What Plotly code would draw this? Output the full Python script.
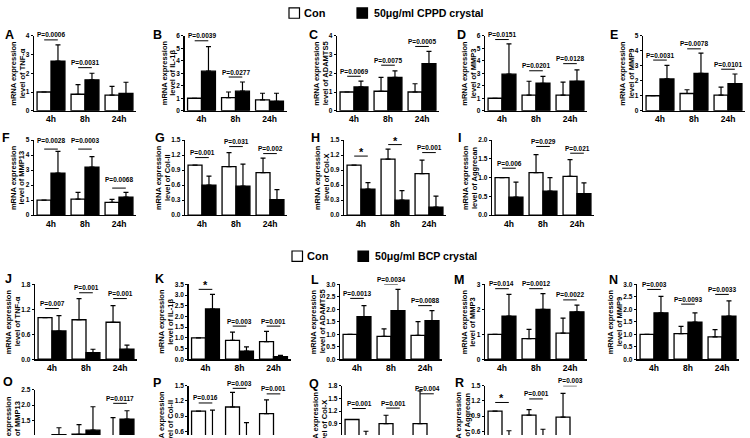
import plotly.graph_objects as go

W, H = 750, 438
CATS = ["4h", "8h", "24h"]

# ---------------- data (means / upper SD) ----------------
A_con = [1.00, 0.88, 0.83]; A_con_err = [0, 0.51, 0.47]
A_cry = [2.65, 1.65, 0.92]; A_cry_err = [0.87, 0.35, 0.60]
A_sig = ["P=0.0006", "P=0.0031", ""]; A_sig_y = [3.78, 2.30, None]

B_con = [1.00, 1.05, 0.87]; B_con_err = [0, 0.45, 0.53]
B_cry = [3.17, 1.57, 0.76]; B_cry_err = [1.96, 0.73, 0.64]
B_sig = ["P=0.0039", "P=0.0277", ""]; B_sig_y = [5.6, 2.7, None]

C_con = [1.00, 1.04, 1.00]; C_con_err = [0, 0.74, 0.44]
C_cry = [1.27, 1.78, 2.51]; C_cry_err = [0.31, 0.35, 0.66]
C_sig = ["P=0.0069", "P=0.0075", "P=0.0005"]; C_sig_y = [1.84, 2.43, 3.43]

D_con = [1.00, 1.25, 1.25]; D_con_err = [0, 1.11, 1.04]
D_cry = [2.93, 2.20, 2.36]; D_cry_err = [2.42, 0.55, 0.91]
D_sig = ["P=0.0151", "P=0.0201", "P=0.0128"]; D_sig_y = [5.7, 3.2, 3.77]

E_con = [1.00, 1.15, 1.04]; E_con_err = [0, 0.25, 0.54]
E_cry = [2.12, 2.49, 1.80]; E_cry_err = [0.91, 1.36, 0.65]
E_sig = ["P=0.0031", "P=0.0078", "P=0.0101"]; E_sig_y = [3.38, 4.13, 2.77]

F_con = [1.00, 1.06, 0.85]; F_con_err = [0, 0.46, 0.20]
F_cry = [2.80, 3.20, 1.20]; F_cry_err = [1.45, 0.70, 0.32]
F_sig = ["P=0.0028", "P=0.0003", "P=0.0068"]; F_sig_y = [4.4, 4.4, 1.8]

G_con = [1.00, 0.97, 0.85]; G_con_err = [0, 0.28, 0.29]
G_cry = [0.60, 0.58, 0.31]; G_cry_err = [0.18, 0.44, 0.20]
G_sig = ["P=0.001", "P=0.031", "P=0.002"]; G_sig_y = [1.15, 1.37, 1.23]

H_con = [1.00, 1.12, 0.83]; H_con_err = [0, 0.20, 0.27]
H_cry = [0.52, 0.30, 0.16]; H_cry_err = [0.13, 0.19, 0.22]
H_sig = ["*", "*", "P=0.001"]; H_sig_y = [1.18, 1.41, 1.25]

I_con = [1.00, 1.13, 1.03]; I_con_err = [0, 0.48, 0.45]
I_cry = [0.48, 0.64, 0.57]; I_cry_err = [0.40, 0.36, 0.29]
I_sig = ["P=0.006", "P=0.029", "P=0.021"]; I_sig_y = [1.25, 1.83, 1.65]

J_con = [1.00, 0.95, 0.89]; J_con_err = [0, 0.51, 0.40]
J_cry = [0.68, 0.16, 0.24]; J_cry_err = [0.37, 0.08, 0.10]
J_sig = ["P=0.007", "P=0.001", "P=0.001"]; J_sig_y = [1.22, 1.60, 1.46]

K_con = [1.00, 0.88, 0.82]; K_con_err = [0, 0.39, 0.48]
K_cry = [2.35, 0.38, 0.12]; K_cry_err = [0.69, 0.20, 0.06]
K_sig = ["*", "P=0.003", "P=0.001"]; K_sig_y = [3.27, 1.55, 1.55]

L_con = [1.00, 0.92, 0.96]; L_con_err = [0, 0.30, 0.55]
L_cry = [1.71, 1.95, 1.55]; L_cry_err = [0.44, 0.85, 0.40]
L_sig = ["P=0.0013", "P=0.0034", "P=0.0088"]; L_sig_y = [2.44, 3.00, 2.15]

M_con = [1.00, 0.83, 1.05]; M_con_err = [0, 0.37, 0.60]
M_cry = [1.73, 2.00, 1.90]; M_cry_err = [0.87, 0.63, 0.27]
M_sig = ["P=0.014", "P=0.0012", "P=0.0022"]; M_sig_y = [2.83, 2.83, 2.38]

N_con = [1.00, 1.03, 0.90]; N_con_err = [0, 0.29, 0.29]
N_cry = [1.86, 1.49, 1.73]; N_cry_err = [0.66, 0.37, 0.61]
N_sig = ["P=0.003", "P=0.0093", "P=0.0033"]; N_sig_y = [2.80, 2.21, 2.60]

O_con = [1.00, 1.06, 0.90]; O_con_err = [0, 0.31, 0.70]
O_cry = [1.05, 1.19, 1.55]; O_cry_err = [0.22, 0.76, 0.27]
O_sig = ["", "", "P=0.0117"]; O_sig_y = [None, None, 2.06]

P_con = [1.00, 1.08, 0.95]; P_con_err = [0, 0.29, 0.27]
P_cry = [0.45, 0.35, 0.20]; P_cry_err = [0.57, 0.42, 0.10]
P_sig = ["P=0.016", "P=0.003", "P=0.001"]; P_sig_y = [1.16, 1.45, 1.34]

Q_con = [1.00, 0.90, 0.90]; Q_con_err = [0, 0.20, 0.78]
Q_cry = [0.40, 0.30, 0.30]; Q_cry_err = [0.32, 0.20, 0.20]
Q_sig = ["P=0.001", "P=0.001", "P=0.004"]; Q_sig_y = [1.26, 1.27, 1.61]

R_con = [1.00, 0.92, 0.88]; R_con_err = [0, 0.11, 0.47]
R_cry = [0.35, 0.40, 0.30]; R_cry_err = [0.26, 0.24, 0.15]
R_sig = ["*", "P=0.001", "P=0.003"]; R_sig_y = [1.17, 1.24, 1.50]

GENES = {"A": "TNF-α", "B": "IL-1β", "C": "ADAMTS5", "D": "MMP3", "E": "MMP9",
         "F": "MMP13", "G": "Col-II", "H": "Col-X", "I": "Aggrecan",
         "J": "TNF-α", "K": "IL-1β", "L": "ADAMTS5", "M": "MMP3", "N": "MMP9",
         "O": "MMP13", "P": "Col-II", "Q": "Col-X", "R": "Aggrecan"}
YMAX = {"A": 4, "B": 6, "C": 4, "D": 6, "E": 5, "F": 5, "G": 1.5, "H": 1.5, "I": 2.0,
        "J": 1.8, "K": 3.5, "L": 3.0, "M": 3, "N": 3.0, "O": 2.5, "P": 1.5, "Q": 1.8, "R": 1.5}
DTICK = {"A": 1, "B": 1, "C": 1, "D": 1, "E": 1, "F": 1, "G": 0.3, "H": 0.3, "I": 0.5,
         "J": 0.6, "K": 0.5, "L": 0.5, "M": 1, "N": 0.5, "O": 0.5, "P": 0.3, "Q": 0.3, "R": 0.3}
DEC = {k: (0 if DTICK[k] == 1 else 1) for k in DTICK}

DATA = {}
for k in "ABCDEFGHIJKLMNOPQR":
    g = globals()
    DATA[k] = (g[k + "_con"], g[k + "_con_err"], g[k + "_cry"], g[k + "_cry_err"],
               g[k + "_sig"], g[k + "_sig_y"])

# ---------------- layout (pixels) ----------------
PW = 102
AXIS_X = {"A": 34, "B": 184.5, "C": 337, "D": 485, "E": 643,
          "F": 34, "G": 185, "H": 344, "I": 492,
          "J": 35, "K": 188.5, "L": 340, "M": 485, "N": 637,
          "O": 35, "P": 188.5, "Q": 342, "R": 485}
ROWS = {"A": 0, "B": 0, "C": 0, "D": 0, "E": 0, "F": 1, "G": 1, "H": 1, "I": 1,
        "J": 2, "K": 2, "L": 2, "M": 2, "N": 2, "O": 3, "P": 3, "Q": 3, "R": 3}
ROW_TOP = [32.3, 138.3, 285, 388]
ROW_ZERO = [108.5, 214.5, 361, 465]
LETTER_XY = {"A": (9, 31), "B": (157, 31), "C": (313, 31), "D": (461, 31), "E": (614, 31),
             "F": (6, 136), "G": (160, 136), "H": (315, 136), "I": (460, 136),
             "J": (8, 279), "K": (159, 279), "L": (315, 280), "M": (459, 280), "N": (613, 280),
             "O": (8, 384), "P": (157, 385), "Q": (314, 386), "R": (460, 385)}
SIG_SHIFT = {"F": 9}
TITLE_OFF_INT = (-20.5, -12)
TITLE_OFF_DEC = (-26.5, -17.5)

FONT = "Liberation Sans, Arial, sans-serif"


def fx(x):
    return x / W


def fy(y):
    return 1 - y / H


fig = go.Figure()
shapes, annos = [], []
layout_axes = {}

for idx, k in enumerate("ABCDEFGHIJKLMNOPQR"):
    n = idx + 1
    xa, ya = ("x" if n == 1 else f"x{n}"), ("y" if n == 1 else f"y{n}")
    con, con_err, cry, cry_err, sig, sig_y = DATA[k]
    r = ROWS[k]
    top, zero = ROW_TOP[r], ROW_ZERO[r]
    if k == "O":
        top, zero = 392, 470.5
    bottom = min(zero, H)
    ymax = YMAX[k]
    ylow = ymax * (zero - bottom) / (zero - top)
    ax = AXIS_X[k]

    fig.add_trace(go.Bar(x=CATS, y=con, xaxis=xa, yaxis=ya, showlegend=False, hoverinfo="skip",
                         marker=dict(color="white", line=dict(color="black", width=1.3)),
                         error_y=dict(type="data", array=con_err, arrayminus=[0, 0, 0],
                                      symmetric=False, color="black", thickness=1.2, width=2.5)))
    fig.add_trace(go.Bar(x=CATS, y=cry, xaxis=xa, yaxis=ya, showlegend=False, hoverinfo="skip",
                         marker=dict(color="black", line=dict(color="black", width=1.3)),
                         error_y=dict(type="data", array=cry_err, arrayminus=[0, 0, 0],
                                      symmetric=False, color="black", thickness=1.2, width=2.5)))

    nt = int(round(ymax / DTICK[k]))
    tv = [round(i * DTICK[k], 3) for i in range(nt + 1)]
    tt = [f"{v:.{DEC[k]}f}" for v in tv]
    key = "" if n == 1 else str(n)
    layout_axes["xaxis" + key] = dict(
        domain=[fx(ax), fx(ax + PW)], anchor=ya, type="category",
        range=[-0.5, 2.5], showline=(r < 3), linecolor="black", linewidth=1.3,
        showticklabels=(r < 3), ticks="", showgrid=False, zeroline=False, fixedrange=True,
        tickfont=dict(family=FONT, size=8.5, color="black", weight="bold"))
    layout_axes["yaxis" + key] = dict(
        domain=[fy(bottom), fy(top)], anchor=xa, range=[ylow, ymax + 1e-6],
        showline=True, linecolor="black", linewidth=1.3, ticks="outside",
        ticklen=2, tickwidth=1, tickcolor="black", tickvals=tv, ticktext=tt,
        showgrid=False, zeroline=False, ticklabelstandoff=0, fixedrange=True,
        tickfont=dict(family=FONT, size=6.5, color="black", weight="bold"))

    # significance bars
    for i, (lab, yv) in enumerate(zip(sig, sig_y)):
        if yv is None or not lab:
            continue
        shapes.append(dict(type="line", xref=xa, yref=ya, x0=i - 0.2, x1=i + 0.2,
                           y0=yv, y1=yv, line=dict(color="black", width=1)))
        star = lab == "*"
        annos.append(dict(text=lab, xref=xa, yref=ya, x=CATS[i], y=yv, showarrow=False,
                          yanchor="middle", xanchor="center",
                          yshift=(4 if star else SIG_SHIFT.get(k, 5)),
                          font=dict(family=FONT, size=(11 if star else 6.5),
                                    color="black", weight="bold")))

    # y titles
    yc = (top + zero) / 2
    offs = TITLE_OFF_INT if DEC[k] == 0 else TITLE_OFF_DEC
    for dx, t in zip(offs, ("mRNA expression", "level of " + GENES[k])):
        annos.append(dict(text=t, xref="paper", yref="paper", x=fx(ax + dx), y=fy(yc),
                          textangle=-90, showarrow=False, xanchor="center", yanchor="middle",
                          font=dict(family=FONT, size=7.5, color="black", weight="bold")))
    lx, ly = LETTER_XY[k]
    annos.append(dict(text=k, xref="paper", yref="paper", x=fx(lx), y=fy(ly), showarrow=False,
                      xanchor="center", yanchor="middle",
                      font=dict(family=FONT, size=12.5, color="black", weight="bold")))

# legends
for (y0, crystal, wx, bx) in ((4, "50μg/ml CPPD crystal", 289, 357), (251, "50μg/ml BCP crystal", 292, 358)):
    shapes.append(dict(type="rect", xref="paper", yref="paper", x0=fx(wx), x1=fx(wx + 10.5),
                       y0=fy(y0 + 10.5), y1=fy(y0), fillcolor="white", line=dict(color="black", width=1.2)))
    shapes.append(dict(type="rect", xref="paper", yref="paper", x0=fx(bx), x1=fx(bx + 10.5),
                       y0=fy(y0 + 10.5), y1=fy(y0), fillcolor="black", line=dict(color="black", width=1.2)))
    annos.append(dict(text="Con", xref="paper", yref="paper", x=fx(wx + 13), y=fy(y0 + 5.5),
                      xanchor="left", yanchor="middle", showarrow=False,
                      font=dict(family=FONT, size=11, color="black", weight="bold")))
    annos.append(dict(text=crystal, xref="paper", yref="paper", x=fx(bx + 15), y=fy(y0 + 5.5),
                      xanchor="left", yanchor="middle", showarrow=False,
                      font=dict(family=FONT, size=10.6, color="black", weight="bold")))

fig.update_layout(width=W, height=H, margin=dict(l=0, r=0, t=0, b=0),
                  paper_bgcolor="white", plot_bgcolor="rgba(0,0,0,0)",
                  barmode="group", bargap=0.18, bargroupgap=0, hovermode=False,
                  shapes=shapes, annotations=annos, **layout_axes)
fig.write_html("out.html", config={"displayModeBar": False, "staticPlot": True},
               post_script="document.body.style.margin='0px';document.body.style.overflow='hidden';")
